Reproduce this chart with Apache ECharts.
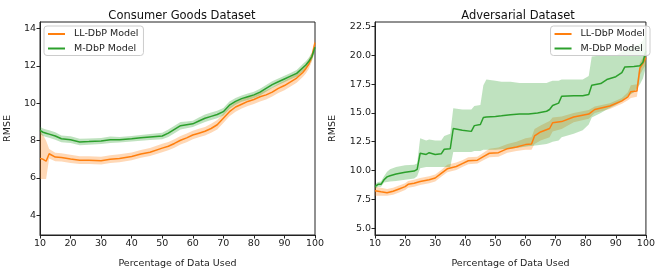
<!DOCTYPE html>
<html>
<head>
<meta charset="utf-8">
<script src="https://cdn.jsdelivr.net/npm/echarts@6/dist/echarts.min.js"></script>
<style>
  html, body { margin: 0; padding: 0; background: #fff; }
  #chart { width: 658px; height: 274px; }
</style>
</head>
<body>
<div id="chart"></div>
<script>
// Consumer Goods Dataset (left)
var leftX = [10,11,12,13,15,17,20,23,26,30,33,36,40,43,46,50,52,54,56,58,60,62,64,66,68,70,72,74,76,78,80,82,84,86,88,90,92,94,96,97,98,99,100];
var leftGreen = [8.55,8.45,8.4,8.35,8.25,8.1,8.05,7.93,7.95,7.98,8.05,8.05,8.1,8.15,8.2,8.25,8.4,8.6,8.8,8.85,8.9,9.05,9.2,9.3,9.4,9.55,9.9,10.1,10.25,10.35,10.45,10.6,10.8,11.0,11.15,11.3,11.45,11.6,11.9,12.05,12.25,12.5,13.0];
var leftGreenLo = [8.35,8.25,8.2,8.15,8.05,7.92,7.87,7.76,7.78,7.82,7.88,7.9,7.95,8.0,8.04,8.08,8.2,8.4,8.6,8.67,8.73,8.86,9.0,9.1,9.2,9.35,9.7,9.92,10.08,10.18,10.28,10.42,10.62,10.82,10.98,11.13,11.28,11.42,11.7,11.85,12.05,12.3,12.75];
var leftGreenHi = [8.75,8.65,8.6,8.55,8.45,8.28,8.23,8.1,8.12,8.14,8.22,8.2,8.25,8.3,8.36,8.42,8.6,8.8,9.0,9.03,9.07,9.24,9.4,9.5,9.6,9.75,10.1,10.28,10.42,10.52,10.62,10.78,10.98,11.18,11.32,11.47,11.62,11.78,12.1,12.25,12.45,12.7,13.2];
var leftOrange = [7.05,7.0,6.9,7.3,7.12,7.1,7.02,6.95,6.95,6.92,7.0,7.05,7.15,7.28,7.38,7.6,7.7,7.85,8.02,8.15,8.3,8.4,8.5,8.65,8.85,9.2,9.55,9.8,9.95,10.1,10.2,10.35,10.45,10.6,10.8,10.95,11.15,11.35,11.65,11.85,12.1,12.5,13.25];
var leftOrangeLo = [5.95,5.95,5.95,7.05,6.9,6.88,6.8,6.75,6.75,6.72,6.8,6.85,6.95,7.08,7.18,7.38,7.48,7.62,7.8,7.92,8.08,8.18,8.28,8.42,8.6,8.95,9.3,9.55,9.72,9.86,9.96,10.1,10.2,10.36,10.55,10.7,10.9,11.1,11.4,11.6,11.85,12.25,13.0];
var leftOrangeHi = [8.6,8.3,8.0,7.55,7.35,7.32,7.24,7.17,7.17,7.14,7.22,7.27,7.37,7.5,7.6,7.83,7.93,8.08,8.25,8.38,8.53,8.63,8.73,8.9,9.1,9.45,9.8,10.05,10.2,10.34,10.44,10.6,10.7,10.85,11.05,11.2,11.4,11.6,11.9,12.1,12.35,12.75,13.5];

// Adversarial Dataset (right)
var rightGreenX = [10,11,12,13,14,15,17,20,23,24,25,27,28,30,32,33,35,36,39,42,43,45,46,47,50,52,55,58,61,64,67,68,69,71,72,76,79,81,82,85,87,90,92,93,96,98,99,100];
var rightGreen = [8.6,8.8,8.8,9.2,9.45,9.55,9.7,9.85,9.95,10.1,11.5,11.4,11.55,11.4,11.45,11.85,11.9,13.65,13.5,13.4,13.9,14.0,14.6,14.65,14.7,14.75,14.85,14.9,14.9,15.0,15.15,15.3,15.65,15.85,16.45,16.5,16.5,16.6,17.4,17.55,17.9,18.15,18.5,19.0,19.03,19.1,19.4,20.4];
var rightGreenLo = [8.4,8.6,8.6,8.95,9.0,9.05,9.1,9.2,9.3,9.5,10.2,10.3,10.3,10.3,10.3,10.3,10.3,11.6,11.6,11.6,11.7,11.7,11.8,11.8,11.8,11.85,11.9,12.0,12.1,12.2,12.3,12.4,12.5,12.6,12.9,13.2,13.5,14.0,14.6,15.0,15.3,15.7,16.0,16.3,16.8,17.5,18.0,19.0];
var rightGreenHi = [8.8,9.0,9.05,9.5,9.9,10.1,10.3,10.45,10.5,10.6,12.8,12.6,12.7,12.6,12.6,13.0,13.2,15.4,15.3,15.3,15.6,15.7,17.4,17.9,17.8,17.7,17.7,17.6,17.6,17.6,17.6,17.7,17.8,17.8,17.9,17.9,17.9,18.2,19.9,20.0,20.0,20.0,20.3,20.6,20.8,21.0,21.3,22.0];
var rightOrangeX = [10,12,14,16,18,20,21,23,25,28,30,32,34,37,39,41,44,46,48,51,54,57,60,62,63,65,68,69,72,76,81,83,88,92,94,95,97,98,99,100];
var rightOrange = [8.25,8.15,8.07,8.2,8.4,8.6,8.8,8.9,9.05,9.2,9.35,9.75,10.15,10.35,10.6,10.85,10.9,11.2,11.5,11.55,11.9,12.05,12.25,12.3,13.0,13.35,13.65,14.15,14.25,14.65,14.9,15.3,15.6,16.05,16.4,16.85,16.9,18.9,19.3,19.8];
var rightOrangeLo = [7.8,7.8,7.8,7.9,8.1,8.3,8.5,8.6,8.75,8.9,9.05,9.45,9.85,10.05,10.3,10.55,10.6,10.9,11.15,11.2,11.55,11.7,11.8,11.8,12.3,12.6,12.9,13.4,13.6,14.2,14.5,15.0,15.35,15.8,16.1,16.3,16.4,18.3,18.8,19.2];
var rightOrangeHi = [8.6,8.5,8.4,8.5,8.7,8.9,9.1,9.2,9.35,9.5,9.65,10.05,10.5,10.7,10.9,11.15,11.2,11.55,11.9,12.0,12.3,12.5,12.8,12.9,13.6,13.9,14.3,14.6,14.7,15.0,15.25,15.55,15.85,16.3,16.8,17.4,17.5,19.4,19.8,20.4];

var leftTicks = [4, 6, 8, 10, 12, 14];
var rightTicks = [5, 7.5, 10, 12.5, 15, 17.5, 20, 22.5];
var xTicks = [10, 20, 30, 40, 50, 60, 70, 80, 90, 100];

var ORANGE = '#ff7f0e', GREEN = '#2ca02c';
var FONT = 'DejaVu Sans';

function pairs(xs, ys) {
  return xs.map(function (x, i) { return [x, ys[i]]; });
}

// shaded spread between lo and hi, drawn as one polygon through the axes' scales
function band(idx, xs, lo, hi, color) {
  return {
    type: 'custom', xAxisIndex: idx, yAxisIndex: idx, silent: true, z: 1,
    data: xs.map(function (x, i) { return [x, lo[i], hi[i]]; }),
    encode: { x: 0, y: [1, 2] },
    renderItem: function (params, api) {
      if (params.dataIndex !== 0) return null;
      var pts = [];
      for (var i = 0; i < xs.length; i++) pts.push(api.coord([xs[i], hi[i]]));
      for (var j = xs.length - 1; j >= 0; j--) pts.push(api.coord([xs[j], lo[j]]));
      return { type: 'polygon', shape: { points: pts }, style: { fill: color } };
    }
  };
}
function line(idx, name, xs, ys, color) {
  return { type: 'line', name: name, xAxisIndex: idx, yAxisIndex: idx, data: pairs(xs, ys),
    symbol: 'none', color: color, lineStyle: { color: color, width: 1.5 }, z: 3 };
}

function xAxisFor(idx) {
  return {
    type: 'value', gridIndex: idx, min: 10, max: 100, interval: 10,
    name: 'Percentage of Data Used', nameLocation: 'middle', nameGap: 24,
    nameTextStyle: { fontFamily: FONT, fontSize: 9.5, color: '#222' },
    axisLine: { onZero: false, lineStyle: { color: '#222', width: 1 } },
    axisTick: { inside: false, length: 3.5, lineStyle: { color: '#222' } },
    axisLabel: { fontFamily: FONT, fontSize: 9.5, color: '#222', margin: 4,
      customValues: xTicks },
    splitLine: { show: false }
  };
}
function yAxisFor(idx, min, max, ticks, fmt, gap) {
  return {
    type: 'value', gridIndex: idx, min: min, max: max,
    name: 'RMSE', nameLocation: 'middle', nameGap: gap,
    nameTextStyle: { fontFamily: FONT, fontSize: 9.5, color: '#222' },
    axisLine: { show: true, onZero: false, lineStyle: { color: '#222', width: 1 } },
    axisTick: { show: true, length: 3.5, lineStyle: { color: '#222' }, customValues: ticks },
    axisLabel: { fontFamily: FONT, fontSize: 9.5, color: '#222', margin: 4,
      customValues: ticks, formatter: fmt },
    splitLine: { show: false }
  };
}
function legendFor(pos) {
  var l = {
    data: ['LL-DbP Model', 'M-DbP Model'], orient: 'vertical', top: 26,
    icon: 'rect', itemWidth: 17, itemHeight: 2, itemGap: 4.5, padding: [3, 5, 2, 4],
    borderColor: '#ccc', borderWidth: 1, borderRadius: 3,
    backgroundColor: 'rgba(255,255,255,0.8)',
    textStyle: { fontFamily: FONT, fontSize: 9.5, color: '#222', padding: [0, 0, 0, 4] },
    selectedMode: false
  };
  for (var k in pos) l[k] = pos[k];
  return l;
}

var chart = echarts.init(document.getElementById('chart'), null, { renderer: 'canvas' });

var series = [
  band(0, leftX, leftOrangeLo, leftOrangeHi, 'rgba(255,127,14,0.3)'),
  band(0, leftX, leftGreenLo, leftGreenHi, 'rgba(44,160,44,0.3)'),
  line(0, 'LL-DbP Model', leftX, leftOrange, ORANGE),
  line(0, 'M-DbP Model', leftX, leftGreen, GREEN),
  band(1, rightOrangeX, rightOrangeLo, rightOrangeHi, 'rgba(255,127,14,0.3)'),
  band(1, rightGreenX, rightGreenLo, rightGreenHi, 'rgba(44,160,44,0.3)'),
  line(1, 'LL-DbP Model', rightOrangeX, rightOrange, ORANGE),
  line(1, 'M-DbP Model', rightGreenX, rightGreen, GREEN)
];

chart.setOption({
  animation: false,
  backgroundColor: '#fff',
  title: [
    { text: 'Consumer Goods Dataset', left: 177, top: 5, textAlign: 'center',
      textStyle: { fontFamily: FONT, fontSize: 11.5, fontWeight: 'normal', color: '#111' } },
    { text: 'Adversarial Dataset', left: 513, top: 5, textAlign: 'center',
      textStyle: { fontFamily: FONT, fontSize: 11.5, fontWeight: 'normal', color: '#111' } }
  ],
  legend: [legendFor({ left: 44 }), legendFor({ right: 8 })],
  grid: [
    { left: 40, right: 343, top: 22, bottom: 35, show: true, borderColor: '#222', borderWidth: 1 },
    { left: 375, right: 7, top: 22, bottom: 35, show: true, borderColor: '#222', borderWidth: 1 }
  ],
  xAxis: [xAxisFor(0), xAxisFor(1)],
  yAxis: [
    yAxisFor(0, 2.95, 14.35, leftTicks, function (v) { return String(v); }, 27),
    yAxisFor(1, 4.4, 22.9, rightTicks, function (v) { return v.toFixed(1); }, 37)
  ],
  series: series
});
</script>
</body>
</html>
